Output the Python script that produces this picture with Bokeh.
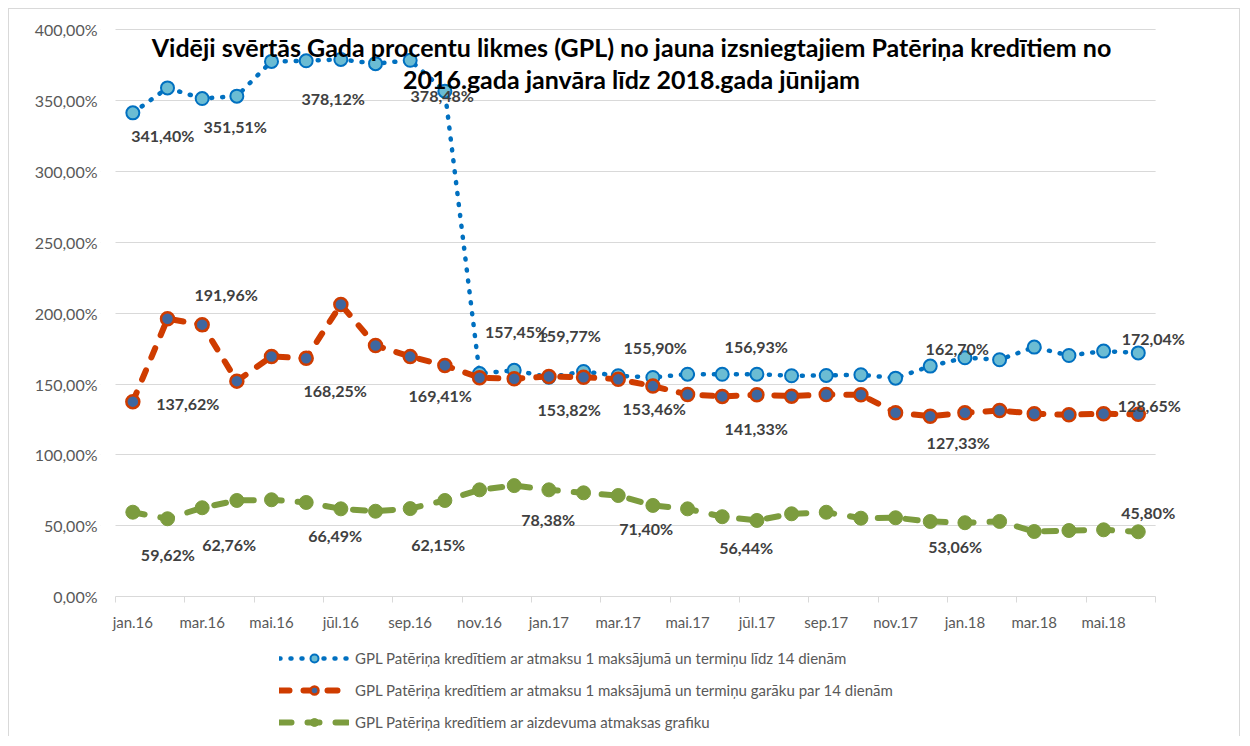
from bokeh.plotting import figure
from bokeh.models import (Range1d, FixedTicker, ColumnDataSource, Legend, LegendItem, Label,
                          BoxAnnotation)
from bokeh.embed import file_html
from bokeh.resources import INLINE
from bokeh.core.properties import value

# ---------------- data ----------------
months = ["jan.16", "feb.16", "mar.16", "apr.16", "mai.16", "jūn.16", "jūl.16", "aug.16",
          "sep.16", "okt.16", "nov.16", "dec.16", "jan.17", "feb.17", "mar.17", "apr.17",
          "mai.17", "jūn.17", "jūl.17", "aug.17", "sep.17", "okt.17", "nov.17", "dec.17",
          "jan.18", "feb.18", "mar.18", "apr.18", "mai.18", "jūn.18"]

name_short = "GPL Patēriņa kredītiem ar atmaksu 1 maksājumā un termiņu līdz 14 dienām"
name_long = "GPL Patēriņa kredītiem ar atmaksu 1 maksājumā un termiņu garāku par 14 dienām"
name_sched = "GPL Patēriņa kredītiem ar aizdevuma atmaksas grafiku"

gpl_short = [341.40, 359.0, 351.51, 353.2, 377.7, 378.12, 379.1, 376.1, 378.48, 356.7,
             157.45, 159.77, 154.8, 158.9, 155.90, 154.7, 157.0, 156.93, 157.0, 155.9,
             156.1, 156.6, 154.2, 162.70, 168.6, 167.2, 176.1, 170.2, 173.3, 172.04]

gpl_long = [137.62, 196.1, 191.96, 152.1, 169.5, 168.25, 206.2, 177.3, 169.41, 163.2,
            154.5, 153.82, 155.4, 154.9, 153.46, 148.6, 142.7, 141.33, 142.5, 141.5,
            142.7, 142.5, 129.8, 127.33, 129.8, 131.4, 129.1, 128.4, 129.1, 128.65]

gpl_sched = [59.62, 55.0, 62.76, 67.9, 68.4, 66.49, 62.0, 60.3, 62.15, 67.9,
             75.4, 78.38, 75.4, 73.3, 71.40, 64.4, 62.0, 56.44, 53.8, 58.5,
             59.6, 55.4, 55.7, 53.06, 52.2, 53.1, 46.0, 46.7, 47.2, 45.80]

y_ticks = [0, 50, 100, 150, 200, 250, 300, 350, 400]

# which points carry a data label
lab_short_idx = [0, 2, 5, 8, 10, 11, 14, 17, 23, 29]
lab_long_idx = [0, 2, 5, 8, 11, 14, 17, 23, 29]
lab_sched_idx = [0, 2, 5, 8, 11, 14, 17, 23, 29]

# label placement (screen px offsets from the point; +dy = down)
lab_short_off = [(30, 23), (33, 28), (27, 38), (32, 35), (37, -42), (55, -35),
                 (37, -28), (34, -28), (27, -18), (15, -14)]
lab_long_off = [(55, 2), (24, -30), (29, 32), (30, 39), (55, 31), (36, 29),
                (34, 32), (28, 26), (11, -9)]
lab_sched_off = [(35, 42), (27, 37), (29, 33), (28, 36), (34, 34), (28, 33),
                 (24, 31), (25, 25), (10, -19)]

# ---------------- layout constants ----------------
W, H = 1232, 728
LEFT = 91                  # room for the y-axis labels
AXIS_GAP = 15              # frame left -> start of the month axis
PX_PER_CAT = 34.67         # horizontal size of one month
PX_PER_UNIT = 1.4173       # vertical size of 1 percentage point
TOP_PAD = 20.3             # frame top -> 400 % line
BOTTOM_PAD = H - 587.2     # 0 % line -> frame bottom
FRAME_W = W - LEFT
x_start = -0.5 - AXIS_GAP / PX_PER_CAT
x_end = x_start + FRAME_W / PX_PER_CAT
y_start = 0 - BOTTOM_PAD / PX_PER_UNIT
y_end = 400 + TOP_PAD / PX_PER_UNIT

FONT = "Lato"
p = figure(width=W, height=H, output_backend="svg", toolbar_location=None,
           x_range=Range1d(x_start, x_end), y_range=Range1d(y_start, y_end),
           min_border_left=LEFT, min_border_right=0, min_border_top=0, min_border_bottom=0,
           background_fill_color="white", border_fill_color="white",
           styles={"margin-left": "8px", "margin-top": "8px",
                   "border-left": "1px solid #D9D9D9", "border-top": "1px solid #D9D9D9",
                   "border-right": "1px solid #D9D9D9"})
p.outline_line_color = None

# x axis (sits on the 0 % line, inside the frame)
xa = p.xaxis[0]
xa.fixed_location = 0
xa.bounds = (-0.5, 29.5)
xa.ticker = FixedTicker(ticks=list(range(0, 30, 2)),
                        minor_ticks=[i - 0.5 for i in range(0, 31, 2)])
xa.major_label_overrides = {i: months[i] for i in range(0, 30, 2)}
xa.major_tick_out = 0
xa.major_tick_in = 0
xa.minor_tick_out = 6
xa.minor_tick_in = 0
xa.minor_tick_line_color = "#D9D9D9"
xa.axis_line_color = "#D9D9D9"
xa.major_label_standoff = 10
xa.major_label_text_font = FONT
xa.major_label_text_font_size = "15px"
xa.major_label_text_color = "#595959"
p.xgrid.visible = False

# y axis
ya = p.yaxis[0]
ya.ticker = FixedTicker(ticks=y_ticks, minor_ticks=[])
ya.major_label_overrides = {t: f"{t},00%" for t in y_ticks}
ya.axis_line_color = None
ya.major_tick_out = 0
ya.major_tick_in = 0
ya.minor_tick_out = 0
ya.major_label_standoff = 3
ya.major_label_text_font = FONT
ya.major_label_text_font_size = "16px"
ya.major_label_text_color = "#595959"
p.ygrid.ticker = FixedTicker(ticks=y_ticks[1:])
p.ygrid.grid_line_color = "#D9D9D9"
p.ygrid.grid_line_width = 1

# keep grid lines within the month axis
p.add_layout(BoxAnnotation(left=29.5, bottom=1, fill_color="white", fill_alpha=1,
                           line_color=None, level="underlay"))
p.add_layout(BoxAnnotation(right=-0.5, bottom=1, fill_color="white", fill_alpha=1,
                           line_color=None, level="underlay"))

x = list(range(len(months)))

BLUE = "#0070C0"
BLUE_FILL = "#6BBCD3"
RED = "#CF3C00"
RED_FILL = "#3E67A0"
GREEN = "#7C9C3E"

src_s = ColumnDataSource(dict(x=x, y=gpl_short))
src_l = ColumnDataSource(dict(x=x, y=gpl_long))
src_g = ColumnDataSource(dict(x=x, y=gpl_sched))

l1 = p.line("x", "y", source=src_s, line_color=BLUE, line_width=4.5, line_dash="1 10",
            line_cap="round")
m1 = p.scatter("x", "y", source=src_s, size=13, fill_color=BLUE_FILL, line_color=BLUE,
               line_width=2)
l2 = p.line("x", "y", source=src_l, line_color=RED, line_width=6, line_dash="10 14",
            line_cap="round")
m2 = p.scatter("x", "y", source=src_l, size=13, fill_color=RED_FILL, line_color=RED,
               line_width=2.5)
l3 = p.line("x", "y", source=src_g, line_color=GREEN, line_width=6, line_dash="12 16",
            line_cap="round")
m3 = p.scatter("x", "y", source=src_g, size=14, fill_color=GREEN, line_color=GREEN,
               line_width=1)


def fmt(v):
    return f"{v:.2f}".replace(".", ",") + "%"


def add_labels(vals, idx, offs):
    src = ColumnDataSource(dict(
        x=idx, y=[vals[i] for i in idx], text=[fmt(vals[i]) for i in idx],
        dx=[o[0] for o in offs], dy=[o[1] for o in offs]))
    p.text("x", "y", text="text", source=src, x_offset="dx", y_offset="dy",
           text_align="center", text_baseline="middle", text_font=value(FONT),
           text_font_style="bold", text_font_size="16px", text_color="#404040")


add_labels(gpl_short, lab_short_idx, lab_short_off)
add_labels(gpl_long, lab_long_idx, lab_long_off)
add_labels(gpl_sched, lab_sched_idx, lab_sched_off)

# title (two lines, inside the plot area); screen units from the frame's bottom-left
title1 = "Vidēji svērtās Gada procentu likmes (GPL) no jauna izsniegtajiem Patēriņa kredītiem no"
title2 = "2016.gada janvāra līdz 2018.gada jūnijam"
for txt, yy in [(title1, H - 37), (title2, H - 69)]:
    p.add_layout(Label(x=531, y=yy, x_units="screen", y_units="screen", text=txt,
                       text_align="center", text_baseline="middle", text_font=FONT,
                       text_font_style="bold", text_font_size="25px", text_color="black"))

legend = Legend(items=[LegendItem(label=name_short, renderers=[l1, m1]),
                       LegendItem(label=name_long, renderers=[l2, m2]),
                       LegendItem(label=name_sched, renderers=[l3, m3])],
                location=(179, 5), orientation="vertical",
                glyph_width=70, glyph_height=20, label_height=20, label_standoff=6,
                spacing=12, padding=0, margin=0, border_line_color=None,
                background_fill_alpha=0, label_text_font=FONT,
                label_text_font_size="15px", label_text_color="#595959")
p.add_layout(legend)

open("out.html", "w").write(file_html(p, INLINE))
